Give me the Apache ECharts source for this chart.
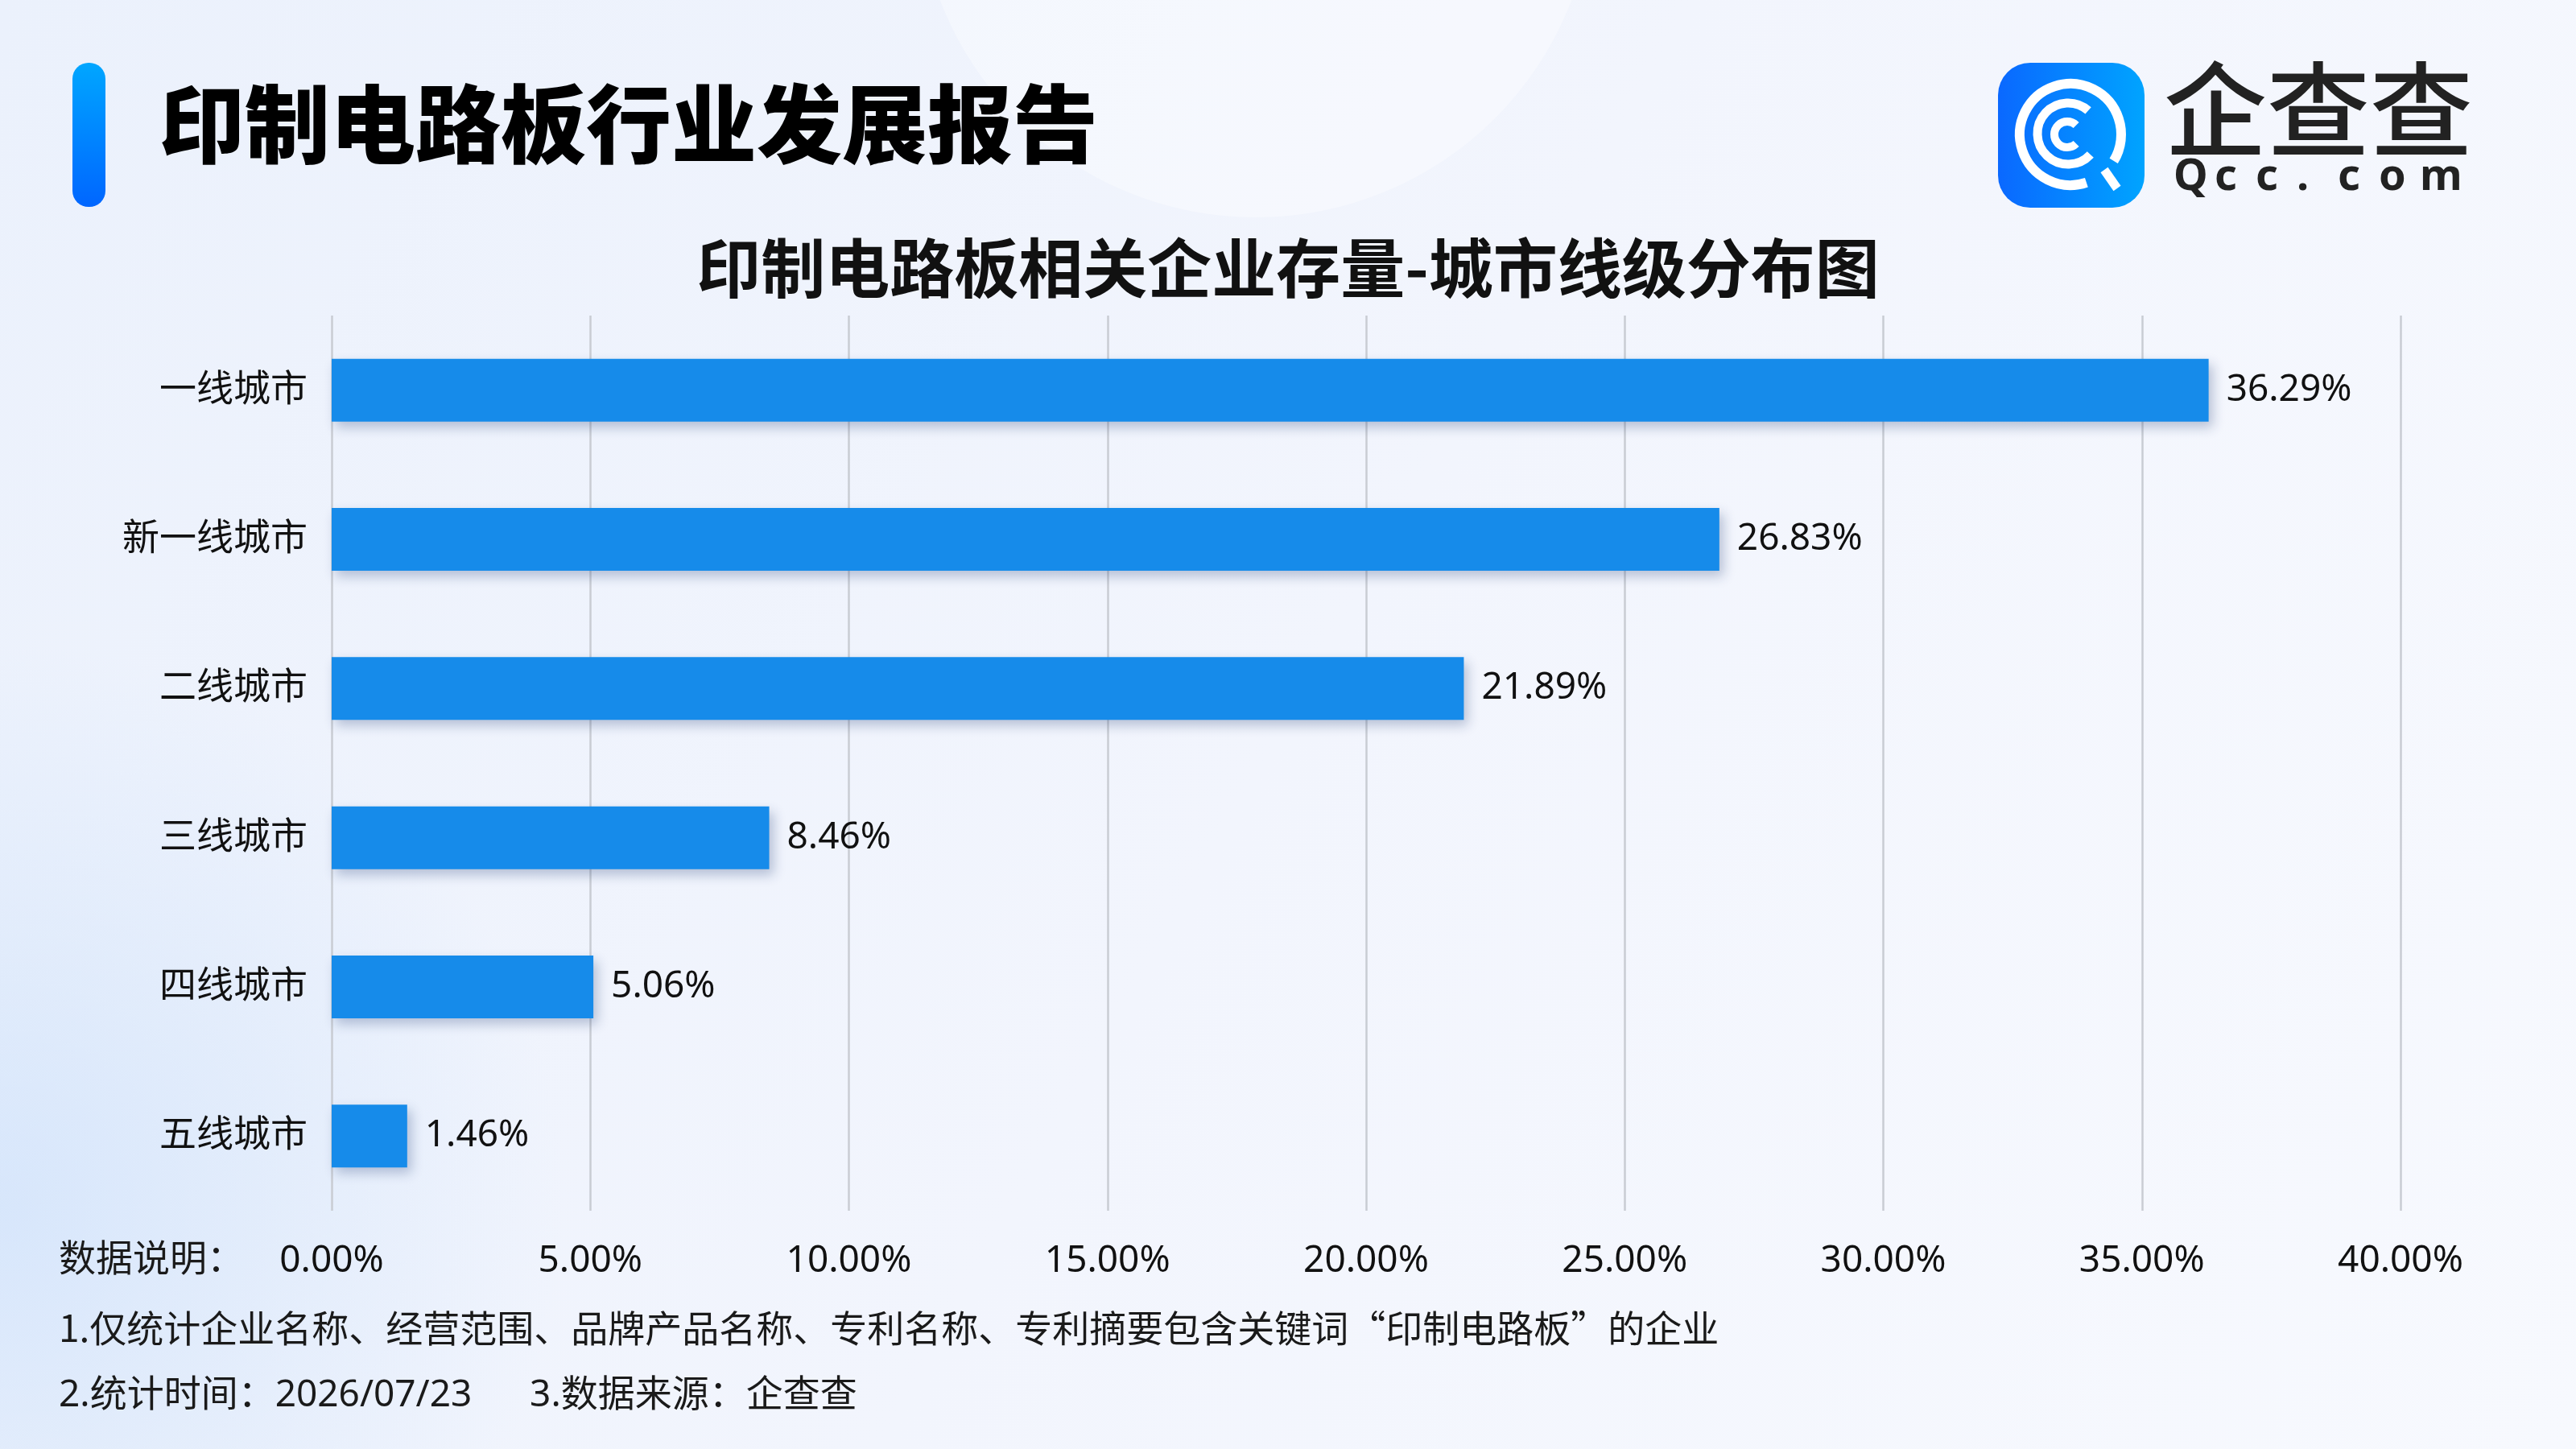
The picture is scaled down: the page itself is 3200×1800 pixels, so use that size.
<!DOCTYPE html>
<html>
<head>
<meta charset="utf-8">
<title>印制电路板相关企业存量-城市线级分布图</title>
<script src="https://cdn.jsdelivr.net/npm/echarts@6/dist/echarts.min.js"></script>
<style>
  html, body { margin: 0; padding: 0; }
  #main { width: 3200px; height: 1800px; }
</style>
</head>
<body>
<div id="main"></div>
<script>
// 城市线级分布数据
var cityLevels = ["一线城市", "新一线城市", "二线城市", "三线城市", "四线城市", "五线城市"];
var shareValues = [36.29, 26.83, 21.89, 8.46, 5.06, 1.46];
var noteLines = [
  "数据说明：",
  "1.仅统计企业名称、经营范围、品牌产品名称、专利名称、专利摘要包含关键词“印制电路板”的企业",
  "2.统计时间：2026/07/23      3.数据来源：企查查"
];

var FONT = "'Noto Sans', 'Noto Sans CJK SC'";
var CJK = "'Noto Sans CJK SC'";
var chart = echarts.init(document.getElementById("main"));

// logo 文字逐字摆放（字间距较大）
var logoLetters = "Qcc.com".split("");
var logoText = logoLetters.map(function (ch, i) {
  return {
    type: "text",
    left: 2700 + i * 51,
    top: 194,
    style: { text: ch, font: "700 54px " + FONT, fill: "#222" }
  };
});

var option = {
  backgroundColor: new echarts.graphic.LinearGradient(0, 0, 1, 1, [
    { offset: 0, color: "#ebf1fc" },
    { offset: 0.5, color: "#f2f5fd" },
    { offset: 1, color: "#f7f9fe" }
  ]),
  textStyle: { fontFamily: FONT },
  title: {
    text: "印制电路板相关企业存量-城市线级分布图",
    left: "center",
    top: 288,
    textStyle: { fontSize: 80, fontWeight: "bold", color: "#111", fontFamily: CJK }
  },
  grid: { left: 412, right: 218, top: 392, bottom: 296 },
  xAxis: {
    type: "value",
    min: 0,
    max: 40,
    interval: 5,
    axisLine: { show: false },
    axisTick: { show: false },
    axisLabel: {
      margin: 40,
      fontSize: 46,
      color: "#111",
      fontFamily: FONT,
      formatter: function (v) { return v.toFixed(2) + "%"; }
    },
    splitLine: { lineStyle: { color: "#c9ccd3", width: 2.5 } }
  },
  yAxis: {
    type: "category",
    inverse: true,
    data: cityLevels,
    axisLine: { show: false },
    axisTick: { show: false },
    axisLabel: { margin: 30, fontSize: 46, color: "#111", fontFamily: FONT }
  },
  series: [{
    type: "bar",
    data: shareValues,
    barWidth: 78,
    itemStyle: {
      color: "#168bea",
      shadowColor: "rgba(20, 50, 110, 0.28)",
      shadowBlur: 14,
      shadowOffsetX: 5,
      shadowOffsetY: 7
    },
    label: {
      show: true,
      position: "right",
      distance: 22,
      fontSize: 46,
      color: "#111",
      fontFamily: FONT,
      formatter: function (p) { return p.value.toFixed(2) + "%"; }
    }
  }],
  graphic: [
    // 背景装饰
    { type: "circle", z: -10, silent: true, shape: { cx: 1560, cy: -150, r: 420 },
      style: { fill: "rgba(255,255,255,0.35)" } },
    { type: "circle", z: -10, silent: true, shape: { cx: 0, cy: 1500, r: 700 },
      style: { fill: new echarts.graphic.RadialGradient(0.5, 0.5, 0.5, [
        { offset: 0, color: "rgba(200,222,250,0.6)" },
        { offset: 1, color: "rgba(200,222,250,0)" }]) } },
    // 左侧竖条
    { type: "rect", left: 90, top: 78, shape: { width: 41, height: 179, r: 20 },
      style: { fill: new echarts.graphic.LinearGradient(0, 0, 0, 1, [
        { offset: 0, color: "#00a6ff" }, { offset: 1, color: "#0066ff" }]) } },
    // 主标题
    { type: "text", left: 198, top: 101,
      style: { text: "印制电路板行业发展报告", font: "900 106px " + CJK, fill: "#000" } },
    // logo 图标
    { type: "rect", left: 2482, top: 78, shape: { width: 182, height: 180, r: 40 },
      style: { fill: new echarts.graphic.LinearGradient(0, 0, 1, 0, [
        { offset: 0, color: "#0a68ff" }, { offset: 1, color: "#00a4ff" }]) } },
    { type: "arc", shape: { cx: 2572, cy: 167, r: 63, startAngle: 1.25, endAngle: 0.55, clockwise: true },
      style: { stroke: "#fff", lineWidth: 12, fill: null } },
    { type: "arc", shape: { cx: 2569, cy: 166, r: 38, startAngle: 0.75, endAngle: -0.85, clockwise: true },
      style: { stroke: "#fff", lineWidth: 11, fill: null } },
    { type: "arc", shape: { cx: 2568, cy: 167, r: 16, startAngle: 0.8, endAngle: -0.8, clockwise: true },
      style: { stroke: "#fff", lineWidth: 10, fill: null } },
    { type: "line", shape: { x1: 2614, y1: 211, x2: 2630, y2: 234 },
      style: { stroke: "#fff", lineWidth: 11 } },
    // logo 文字
    { type: "text", left: 2688, top: 72,
      style: { text: "企查查", font: "500 128px " + CJK, fill: "#222" } }
  ].concat(logoText).concat(noteLines.map(function (t, i) {
    // 第二行含全角引号，用中文字体
    var fam = i === 1 ? CJK : FONT;
    return {
      type: "text",
      left: 73,
      top: 1543 + i * 84,
      style: { text: t, font: "400 46px " + fam, fill: "#1a1a1a" }
    };
  }))
};

chart.setOption(option);
window.onresize = function () { chart.resize(); };
</script>
</body>
</html>
